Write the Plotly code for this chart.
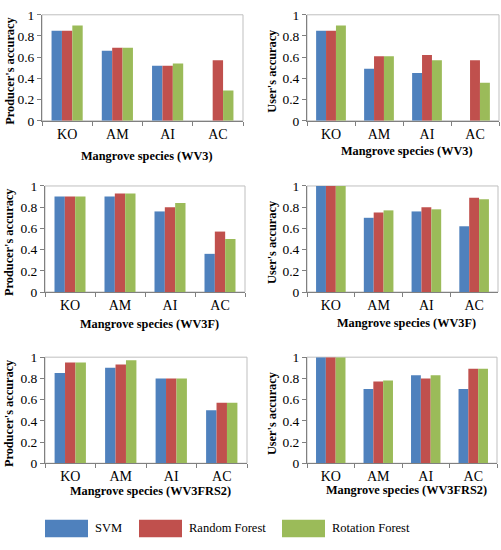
import plotly.graph_objects as go

W, H = 501, 550

species = ["KO", "AM", "AI", "AC"]
classifiers = ["SVM", "Random Forest", "Rotation Forest"]
colors = ["#4F81BD", "#C0504D", "#9BBB59"]

# producer's / user's accuracy, one list per classifier (SVM, RF, RotF)
pa_wv3 = [[0.85, 0.66, 0.52, 0.0], [0.85, 0.69, 0.52, 0.57], [0.90, 0.69, 0.54, 0.286]]
ua_wv3 = [[0.85, 0.49, 0.45, 0.0], [0.85, 0.61, 0.62, 0.57], [0.90, 0.61, 0.57, 0.36]]
pa_wv3f = [[0.90, 0.90, 0.76, 0.36], [0.90, 0.93, 0.80, 0.57], [0.90, 0.93, 0.84, 0.50]]
ua_wv3f = [[1.0, 0.70, 0.76, 0.62], [1.0, 0.75, 0.80, 0.89], [1.0, 0.77, 0.78, 0.875]]
pa_wv3frs2 = [[0.85, 0.90, 0.80, 0.50], [0.95, 0.93, 0.80, 0.57], [0.95, 0.97, 0.80, 0.57]]
ua_wv3frs2 = [[1.0, 0.70, 0.83, 0.70], [1.0, 0.77, 0.80, 0.89], [1.0, 0.78, 0.83, 0.89]]

# (data, y title, x title, plot box in px: x0, x1, ytop, ybottom, ytitle_x, xtitle_y)
panels = [
    (pa_wv3, "Producer's accuracy", "Mangrove species (WV3)", (42, 243, 8, 117), 10, 153),
    (ua_wv3, "User's accuracy", "Mangrove species (WV3)", (307, 499, 8, 117), 272, 148),
    (pa_wv3f, "Producer's accuracy", "Mangrove species (WV3F)", (45, 245, 184, 293), 9, 326),
    (ua_wv3f, "User's accuracy", "Mangrove species (WV3F)", (307, 498, 184, 293), 272, 325),
    (pa_wv3frs2, "Producer's accuracy", "Mangrove species (WV3FRS2)", (45, 247, 360, 469), 9, 498),
    (ua_wv3frs2, "User's accuracy", "Mangrove species (WV3FRS2)", (307, 497, 360, 469), 272, 497),
]

FONT = "Liberation Serif"


def px(x):
    return x / W


def py(y):
    return 1 - y / H


fig = go.Figure()
annotations = []
shapes = []
layout = {}

for i, (data, ytitle, xtitle, box, ytx, xty) in enumerate(panels):
    n = i + 1
    xa = "x" if n == 1 else f"x{n}"
    ya = "y" if n == 1 else f"y{n}"
    for k, name in enumerate(classifiers):
        fig.add_trace(go.Bar(
            x=species, y=data[k], name=name,
            marker=dict(color=colors[k], line=dict(width=0)),
            xaxis=xa, yaxis=ya, showlegend=False,
        ))
    x0, x1, yt, yb = box
    layout[f"xaxis{'' if n == 1 else n}"] = dict(
        domain=[px(x0), px(x1)], anchor=ya,
        type="category", tickson="boundaries",
        ticks="outside", ticklen=4, tickcolor="#808080",
        showline=True, linecolor="#808080", linewidth=1,
        showgrid=False, zeroline=False,
        tickfont=dict(family=FONT, size=14, color="black"),
    )
    layout[f"yaxis{'' if n == 1 else n}"] = dict(
        domain=[py(yb), py(yt)], anchor=xa,
        range=[0, 1], dtick=0.2, tick0=0,
        ticks="outside", ticklen=4, tickcolor="#808080",
        showline=True, linecolor="#808080", linewidth=1,
        showgrid=False, zeroline=False,
        tickfont=dict(family=FONT, size=13.5, color="black"),
    )
    # plot area border
    shapes.append(dict(
        type="rect", xref=f"{xa} domain", yref=f"{ya} domain",
        x0=0, x1=1, y0=0, y1=1, layer="below",
        line=dict(color="#BFBFBF", width=1),
    ))
    annotations.append(dict(
        text=f"<b>{ytitle}</b>", xref="paper", yref="paper",
        x=px(ytx), y=py((yt + yb) / 2 + 3), textangle=-90,
        showarrow=False, xanchor="center", yanchor="middle",
        font=dict(family=FONT, size=12.3, color="black"),
    ))
    annotations.append(dict(
        text=f"<b>{xtitle}</b>", xref="paper", yref="paper",
        x=px((x0 + x1) / 2 + 4), y=py(xty),
        showarrow=False, xanchor="center", yanchor="middle",
        font=dict(family=FONT, size=12.3, color="black"),
    ))

# legend drawn as large swatches like the original
legend_pos = [(45, 88, 93), (139, 182, 187), (282, 325, 330)]
for k, name in enumerate(classifiers):
    s0, s1, tx = legend_pos[k]
    shapes.append(dict(
        type="rect", xref="paper", yref="paper",
        x0=px(s0), x1=px(s1), y0=py(545), y1=py(527),
        fillcolor=colors[k], line=dict(width=0),
    ))
    annotations.append(dict(
        text=name, xref="paper", yref="paper",
        x=px(tx), y=py(536), xanchor="left", yanchor="middle",
        showarrow=False, font=dict(family=FONT, size=12.5, color="black"),
    ))

fig.update_layout(
    width=W, height=H,
    margin=dict(l=0, r=0, t=0, b=0),
    paper_bgcolor="white", plot_bgcolor="white",
    barmode="group", bargap=0.38, bargroupgap=0,
    showlegend=False,
    shapes=shapes, annotations=annotations,
    **layout,
)

fig.write_html(
    "out.html",
    config={"displayModeBar": False},
    post_script="document.body.style.margin='0px';",
)
